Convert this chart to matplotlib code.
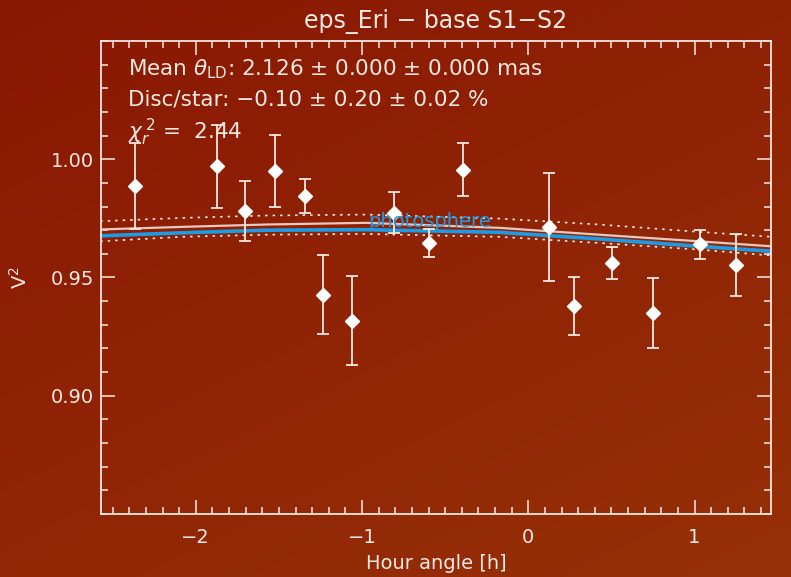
import numpy as np
import matplotlib
matplotlib.use("Agg")
import matplotlib.pyplot as plt
from matplotlib.ticker import MultipleLocator

plt.rcParams['font.family'] = ['DejaVu Sans']
plt.rcParams['mathtext.fontset'] = 'dejavusans'

# measured squared visibilities
hour = [-2.365, -1.872, -1.702, -1.521, -1.344, -1.236, -1.059, -0.810,
        -0.600, -0.390, 0.124, 0.276, 0.506, 0.750, 1.034, 1.248]
v2 = [0.9888, 0.9970, 0.9780, 0.9949, 0.9843, 0.9428, 0.9318, 0.9773,
      0.9646, 0.9956, 0.9712, 0.9378, 0.9562, 0.9351, 0.9640, 0.9552]
v2_err = [0.0181, 0.0175, 0.0127, 0.0152, 0.0072, 0.0167, 0.0189, 0.0087,
          0.0059, 0.0111, 0.0228, 0.0122, 0.0067, 0.0148, 0.0061, 0.0131]

# model curves
model_h = [-2.575, -2.078, -1.574, -0.974, -0.176, 0.424, 1.024, 1.46]
photosphere = [0.9676, 0.9689, 0.9700, 0.9702, 0.9691, 0.9663, 0.9632, 0.9611]
fit = [0.9703, 0.9714, 0.9724, 0.9731, 0.9710, 0.9681, 0.9653, 0.9632]
fit_hi = [0.9738, 0.9752, 0.9762, 0.9766, 0.9749, 0.9724, 0.9693, 0.9672]
fit_lo = [0.9653, 0.9672, 0.9681, 0.9684, 0.9672, 0.9646, 0.9618, 0.9593]

fg = '#f6e8e2'
blue = '#1c9ce6'

fig = plt.figure(figsize=(7.91, 5.77), dpi=100)

# warm gradient backdrop
bg = fig.add_axes([0, 0, 1, 1], zorder=-1)
yy, xx = np.mgrid[0:1:200j, 0:1:200j]
t = 0.6 * yy + 0.4 * xx
top = np.array([0.54, 0.09, 0.01])
bot = np.array([0.59, 0.19, 0.03])
img = top[None, None, :] * (1 - t[..., None]) + bot[None, None, :] * t[..., None]
bg.imshow(img, aspect='auto', extent=[0, 1, 0, 1], origin='upper')
bg.axis('off')

ax = fig.add_axes([0.1277, 0.1092, 0.847, 0.8198])
ax.set_facecolor('none')

ax.plot(model_h, fit_hi, color=fg, lw=1.2, ls=(0, (1.5, 3)))
ax.plot(model_h, fit_lo, color=fg, lw=1.2, ls=(0, (1.5, 3)))
ax.plot(model_h, fit, color='#e8c8c0', lw=1.6)
ax.plot(model_h, photosphere, color=blue, lw=2.6)
ax.text(-0.96, 0.9736, 'photosphere', color=blue, fontsize=14,
        ha='left', va='center')

ax.errorbar(hour, v2, yerr=v2_err, fmt='D', color=fg, ecolor=fg,
            mfc='white', mec='white', ms=7, elinewidth=1.3, capsize=4,
            capthick=1.3)

ax.set_xlim(-2.57, 1.46)
ax.set_ylim(0.85, 1.05)
ax.set_xticks([-2, -1, 0, 1])
ax.set_xticklabels(['\u22122', '\u22121', '0', '1'])
ax.set_yticks([0.90, 0.95, 1.00])
ax.set_yticklabels(['0.90', '0.95', '1.00'])
ax.xaxis.set_minor_locator(MultipleLocator(0.1))
ax.yaxis.set_minor_locator(MultipleLocator(0.01))
ax.tick_params(which='both', direction='in', top=True, right=True,
               colors=fg, labelcolor=fg, labelsize=14, width=1.1)
ax.tick_params(which='major', length=10)
ax.tick_params(which='minor', length=5)
ax.tick_params(axis='x', which='major', pad=10)
ax.tick_params(axis='y', which='major', pad=5)
for s in ax.spines.values():
    s.set_color(fg)
    s.set_linewidth(1.3)

ax.set_xlabel('Hour angle [h]', color=fg, fontsize=14, labelpad=5)
ax.set_ylabel('V$^2$', color=fg, fontsize=14, labelpad=14)
ax.set_title('eps_Eri \u2212 base S1\u2212S2', color=fg, fontsize=17, pad=9)

ax.text(0.04, 0.941, r'Mean $\theta_{\rm LD}$: 2.126 $\pm$ 0.000 $\pm$ 0.000 mas',
        transform=ax.transAxes, color=fg, fontsize=15.5, va='center')
ax.text(0.04, 0.876, 'Disc/star: \u22120.10 \u00b1 0.20 \u00b1 0.02 %',
        transform=ax.transAxes, color=fg, fontsize=15.5, va='center')
ax.text(0.04, 0.806, r'$\chi_r^{\,2}$ =  2.44',
        transform=ax.transAxes, color=fg, fontsize=15.5, va='center')

fig.savefig('out.png', dpi=100)
